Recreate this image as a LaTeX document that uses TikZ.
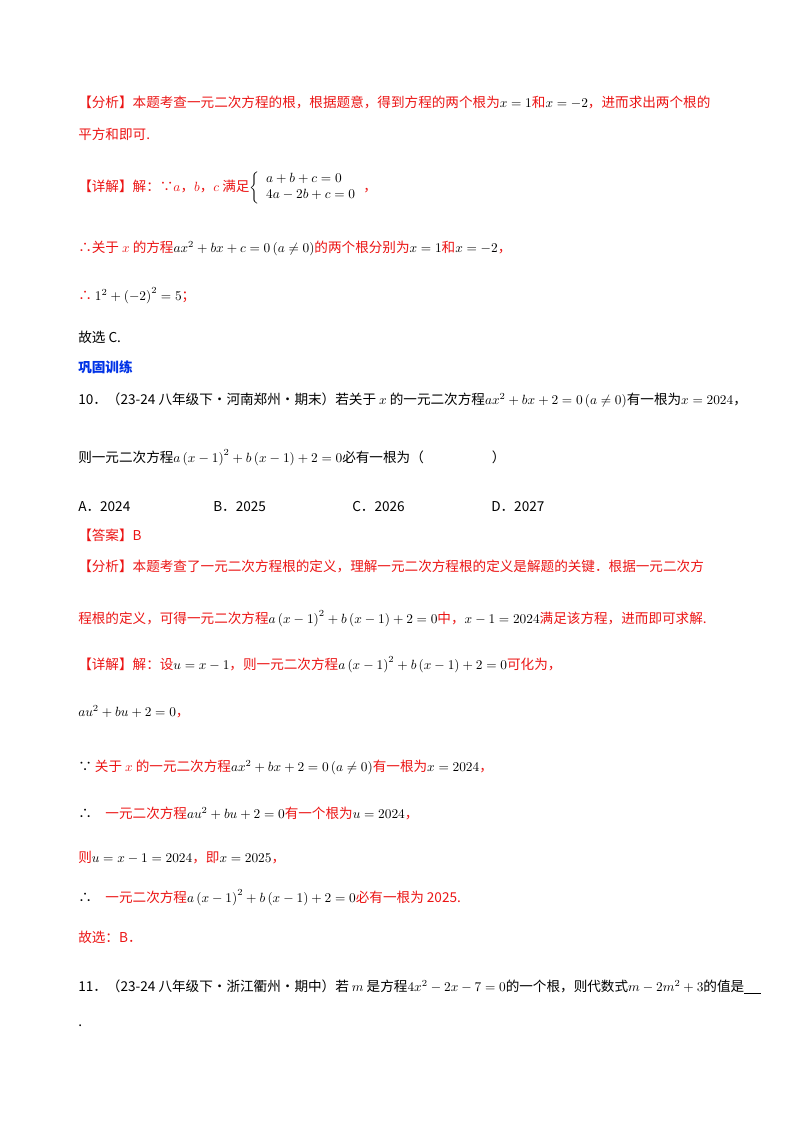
\documentclass[tikz,border=0pt]{standalone}
\usepackage{fontspec}
\newfontfamily\cjk{Noto Sans CJK SC}
\definecolor{rd}{RGB}{235,20,20}
\definecolor{bl}{RGB}{0,50,230}
\newcommand\mm[1]{\textcolor{black}{$#1$}}
\begin{document}
\begin{tikzpicture}[x=0.75pt,y=-0.75pt,
 txt/.style={anchor=base west,inner sep=0,font=\cjk\fontsize{10.2}{12}\selectfont},
 red/.style={txt,text=rd}, blk/.style={txt,text=black}]
\useasboundingbox (0,0) rectangle (800,1132);
\node[red] (l1) at (78,107) {【分析】本题考查一元二次方程的根，根据题意，得到方程的两个根为\mm{x=1}和\mm{x=-2}，进而求出两个根的};
\node[red] (l2) at (78,139) {平方和即可.};
\node[red] (l3) at (78,191) {【详解】解：∵$a$，$b$，$c$ 满足\mm{\left\{\begin{array}{l}a+b+c=0\\4a-2b+c=0\end{array}\right.}，};
\node[red] (l4) at (78,252) {∴关于 $x$ 的方程\mm{ax^2+bx+c=0\left(a\neq0\right)}的两个根分别为\mm{x=1}和\mm{x=-2}，};
\node[red] (l5) at (78,300) {∴ \mm{1^2+\left(-2\right)^2=5}；};
\node[blk] (l6) at (78,342) {故选 C.};
\node[txt,text=bl,font=\cjk\bfseries\fontsize{10.2}{12}\selectfont] (l7) at (78,372) {巩固训练};
\node[blk] (l8) at (78,404) {10．（23-24 八年级下·河南郑州·期末）若关于 $x$ 的一元二次方程\mm{ax^2+bx+2=0\left(a\neq0\right)}有一根为\mm{x=2024}，};
\node[blk] (l9) at (78,462) {则一元二次方程\mm{a\left(x-1\right)^2+b\left(x-1\right)+2=0}必有一根为（\hspace{5em}）};
\node[blk] (a) at (78,511) {A．2024};
\node[blk] (b) at (213,511) {B．2025};
\node[blk] (c) at (352,511) {C．2026};
\node[blk] (d) at (491,511) {D．2027};
\node[red] (l10) at (78,540) {【答案】B};
\node[red] (l11) at (78,571) {【分析】本题考查了一元二次方程根的定义，理解一元二次方程根的定义是解题的关键．根据一元二次方};
\node[red] (l12) at (78,623) {程根的定义，可得一元二次方程\mm{a\left(x-1\right)^2+b\left(x-1\right)+2=0}中，\mm{x-1=2024}满足该方程，进而即可求解.};
\node[red] (l13) at (78,669) {【详解】解：设\mm{u=x-1}，则一元二次方程\mm{a\left(x-1\right)^2+b\left(x-1\right)+2=0}可化为，};
\node[red] (l14) at (78,716) {\mm{au^2+bu+2=0}，};
\node[red] (l15) at (78,771) {\textcolor{black}{∵} 关于 $x$ 的一元二次方程\mm{ax^2+bx+2=0\left(a\neq0\right)}有一根为\mm{x=2024}，};
\node[red] (l16) at (78,818) {\textcolor{black}{∴}\quad 一元二次方程\mm{au^2+bu+2=0}有一个根为\mm{u=2024}，};
\node[red] (l17) at (78,862) {则\mm{u=x-1=2024}，即\mm{x=2025}，};
\node[red] (l18) at (78,902) {\textcolor{black}{∴}\quad 一元二次方程\mm{a\left(x-1\right)^2+b\left(x-1\right)+2=0}必有一根为 2025.};
\node[red] (l19) at (78,942) {故选：B．};
\node[blk] (l20) at (78,991) {11．（23-24 八年级下·浙江衢州·期中）若 $m$ 是方程\mm{4x^2-2x-7=0}的一个根，则代数式\mm{m-2m^2+3}的值是\underline{\hspace{1.2em}}};
\node[blk] (l21) at (78,1026) {.};
\end{tikzpicture}
\end{document}
